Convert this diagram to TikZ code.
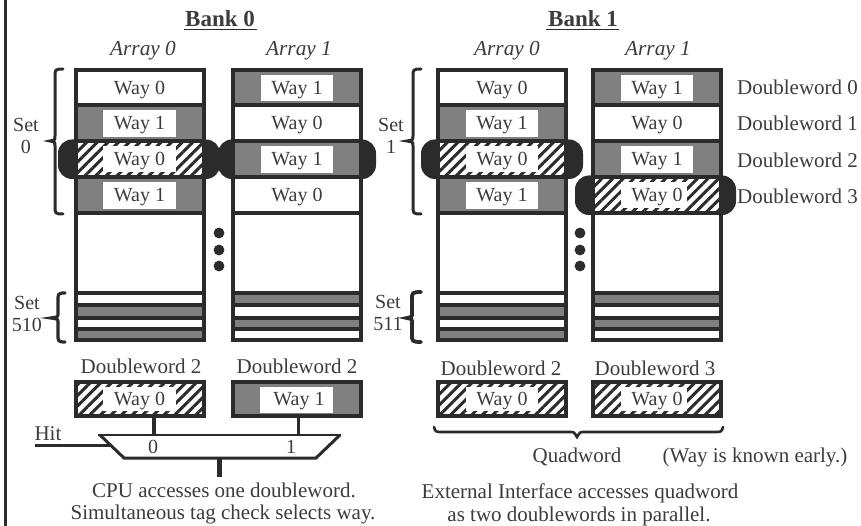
\documentclass[tikz,border=0pt]{standalone}
\usepackage{fontspec}
\setmainfont{Liberation Serif}
\usetikzlibrary{patterns.meta}
\definecolor{ink}{HTML}{2B2B2B}
\definecolor{midgray}{HTML}{808080}
\definecolor{txt}{HTML}{3C3C3C}
\tikzset{
  frameline/.style={draw=ink,line width=4pt},
  whitecell/.style={fill=white},
  graycell/.style={fill=midgray},
  hatchcell/.style={fill=white,pattern={Lines[angle=45,distance=7.5pt,line width=3pt]},pattern color=ink},
  labelbox/.style={fill=white},
  lbl/.style={text=txt,font=\fontsize{20}{22}\selectfont,inner sep=0pt,anchor=center},
  waylbl/.style={lbl,yshift=-2pt},
  lblw/.style={lbl,font=\fontsize{21}{23}\selectfont},
  ital/.style={lbl,yshift=-2pt,font=\fontsize{21.3}{23}\itshape\selectfont},
  bankt/.style={lbl,font=\fontsize{23}{25}\bfseries\selectfont},
  blob/.style={fill=ink,rounded corners=14pt},
  bracestroke/.style={draw=ink,line width=3pt,line cap=round},
  dot/.style={fill=ink},
  wire/.style={draw=ink,line width=4pt}
}
\newcommand{\plainrow}[4]{% x, y1, y2, label
  \fill[whitecell] (#1,#2) rectangle ({#1+128},#3);
  \node[waylbl] at ({#1+64},{(#2+#3)/2}) {#4};
}
\newcommand{\grayrow}[4]{%
  \fill[graycell] (#1,#2) rectangle ({#1+128},#3);
  \fill[labelbox] ({#1+27.5},{#2+5}) rectangle ({#1+100},{#3-4});
  \node[waylbl] at ({#1+64},{(#2+#3)/2}) {#4};
}
\newcommand{\hatchrow}[5]{% x, y1, y2, label, box width
  \fill[white] (#1,#2) rectangle ({#1+128},#3);
  \fill[hatchcell] (#1,#2) rectangle ({#1+128},#3);
  \fill[labelbox] ({#1+27.5},{#2+5}) rectangle ({#1+27.5+#5},{#3-5});
  \node[waylbl] at ({#1+64},{(#2+#3)/2}) {#4};
}
\newcommand{\lowerpart}[2]{% x, start colour order
  \fill[white] (#1,213) rectangle ({#1+128},341);
  \ifnum#2=0
    \fill[midgray] (#1,305) rectangle ({#1+128},318);
    \fill[midgray] (#1,329) rectangle ({#1+128},341);
  \else
    \fill[midgray] (#1,293) rectangle ({#1+128},305);
    \fill[midgray] (#1,318) rectangle ({#1+128},329);
  \fi
  \draw[draw=ink,line width=3.5pt] (#1,293) -- ({#1+128},293)
     (#1,305) -- ({#1+128},305) (#1,318) -- ({#1+128},318) (#1,329) -- ({#1+128},329);
  \draw[frameline] (#1,70.5) rectangle ({#1+128},340);
  \draw[frameline] (#1,105.5) -- ({#1+128},105.5) (#1,141) -- ({#1+128},141)
     (#1,177) -- ({#1+128},177) (#1,213) -- ({#1+128},213);
}
\newcommand{\setbrace}[7][3pt]{% width; xr, xv, xt, y1, ym, y2
  \draw[bracestroke,line width=#1] (#2,#5) .. controls (#3,#5) and (#3,{#5+1}) .. (#3,{#5+7})
    -- (#3,{#6-5}) .. controls (#3,{#6-1}) .. (#4,#6)
    .. controls (#3,{#6+1}) .. (#3,{#6+5})
    -- (#3,{#7-7}) .. controls (#3,{#7-1}) and (#3,#7) .. (#2,#7);
}
\begin{document}
\begin{tikzpicture}[x=1pt,y=-1pt]
\useasboundingbox (0,0) rectangle (861,526);
\fill[white] (0,0) rectangle (861,526);
\draw[draw=ink,line width=3pt] (5,0) -- (5,526);

% titles
\node[bankt] (bank0) at (220,19) {Bank 0};
\node[bankt] (bank1) at (583,19) {Bank 1};
\draw[draw=ink,line width=1.8pt] (184,29.5) -- (257,29.5) (546,29.5) -- (619,29.5);
\node[ital] (a00) at (143,49) {Array 0};
\node[ital] (a01) at (299,49) {Array 1};
\node[ital] (a10) at (507,49) {Array 0};
\node[ital] (a11) at (658,49) {Array 1};

% blobs behind the selected rows
\fill[blob] (58,139.5) rectangle (220,179);
\fill[blob] (218,139.5) rectangle (376,179);
\fill[blob] (421,139.5) rectangle (583,179);
\fill[blob] (575,175.5) rectangle (736,215);

% Bank 0 Array 0
\plainrow{75.5}{70.5}{105.5}{Way 0}
\grayrow{75.5}{105.5}{141}{Way 1}
\hatchrow{75.5}{141}{177}{Way 0}{72.5}
\grayrow{75.5}{177}{213}{Way 1}
\lowerpart{75.5}{0}
% Bank 0 Array 1
\grayrow{233}{70.5}{105.5}{Way 1}
\plainrow{233}{105.5}{141}{Way 0}
\grayrow{233}{141}{177}{Way 1}
\plainrow{233}{177}{213}{Way 0}
\lowerpart{233}{1}
% Bank 1 Array 0
\plainrow{438}{70.5}{105.5}{Way 0}
\grayrow{438}{105.5}{141}{Way 1}
\hatchrow{438}{141}{177}{Way 0}{72.5}
\grayrow{438}{177}{213}{Way 1}
\lowerpart{438}{0}
% Bank 1 Array 1
\grayrow{593}{70.5}{105.5}{Way 1}
\plainrow{593}{105.5}{141}{Way 0}
\grayrow{593}{141}{177}{Way 1}
\hatchrow{593}{177}{213}{Way 0}{66}
\lowerpart{593}{1}

% set labels and braces
\node[lbl,align=center] (set0) at (26,135.5) {Set\\0};
\node[lbl,align=center] (set1) at (391,135.5) {Set\\1};
\node[lbl,align=center] (set510) at (27,314) {Set\\510};
\node[lbl,align=center] (set511) at (388,312.5) {Set\\511};
\setbrace{63}{55}{50}{69}{141}{214}
\setbrace{421}{413}{407}{69}{141}{214}
\setbrace[3.2pt]{65}{58}{51}{293}{318}{342}
\setbrace[3.8pt]{421}{412}{407}{292}{318}{342}

% ellipsis dots
\foreach \yy in {233,250,266}{
  \fill[dot] (219,\yy) circle (5.4pt);
  \fill[dot] (580,\yy) circle (5.4pt);
}

% doubleword labels
\node[lblw,anchor=west] (dw0) at (737,87) {Doubleword 0};
\node[lblw,anchor=west] (dw1) at (737,123) {Doubleword 1};
\node[lblw,anchor=west] (dw2) at (737,160) {Doubleword 2};
\node[lblw,anchor=west] (dw3) at (737,196) {Doubleword 3};

\node[lblw] (d0) at (141,366) {Doubleword 2};
\node[lblw] (d1) at (297,366) {Doubleword 2};
\node[lblw] (d2) at (501,368) {Doubleword 2};
\node[lblw] (d3) at (655,368) {Doubleword 3};

% read-out boxes
\hatchrow{75.5}{382}{416}{Way 0}{72.5}
\draw[frameline] (75.5,382) rectangle (203.5,416);
\fill[graycell] (233,382) rectangle (361,416);
\fill[labelbox] (260,387) rectangle (333,413);
\node[waylbl] (w1) at (299,399) {Way 1};
\draw[frameline] (233,382) rectangle (361,416);
\hatchrow{438}{382}{416}{Way 0}{72.5}
\draw[frameline] (438,382) rectangle (566,416);
\hatchrow{593}{382}{416}{Way 0}{66}
\draw[frameline] (593,382) rectangle (721,416);

% multiplexer
\coordinate (in0top) at (153.5,418);
\coordinate (in0) at (153.5,435);
\coordinate (in1top) at (298.5,418);
\coordinate (in1) at (298.5,435);
\coordinate (hitl) at (35,445.7);
\coordinate (hitr) at (112,445.7);
\coordinate (outt) at (219.5,458);
\coordinate (outb) at (219.5,477);
\draw[wire] (in0top) -- (in0);
\draw[wire,line width=3pt] (in1top) -- (in1);
\draw[wire,line width=3.4pt] (hitl) -- (hitr);
\draw[wire,line width=4.5pt] (outt) -- (outb);
\fill[white] (100,435) -- (340,435) -- (316,458) -- (124,458) -- cycle;
\draw[draw=ink,line width=2.4pt] (98,435) -- (341,435);
\draw[draw=ink,line width=3pt] (100,435) -- (124,458) -- (316,458) -- (340,435);
\node[lbl] (m0) at (153,447) {0};
\node[lbl] (m1) at (291,447) {1};
\node[lblw] (hit) at (48,434) {Hit};

% quadword
\draw[bracestroke,line width=2.6pt] (434,427) .. controls (435,432) and (437,432) .. (441,432)
  -- (570,432) .. controls (574,432) .. (577,437) .. controls (580,432) .. (584,432)
  -- (716,432) .. controls (720,432) and (722,432) .. (723,427);
\node[lblw,yshift=-1pt] (qw) at (577,456) {Quadword};
\node[lblw,yshift=-1pt] (early) at (755,456) {(Way is known early.)};

% captions
\node[lblw] (c1) at (224,490) {CPU accesses one doubleword.};
\node[lblw,yshift=-1.5pt] (c2) at (223,513) {Simultaneous tag check selects way.};
\node[lblw,yshift=-1.5pt] (e1) at (580,492) {External Interface accesses quadword};
\node[lblw,yshift=-1.5pt] (e2) at (579,515) {as two doublewords in parallel.};
\end{tikzpicture}
\end{document}
